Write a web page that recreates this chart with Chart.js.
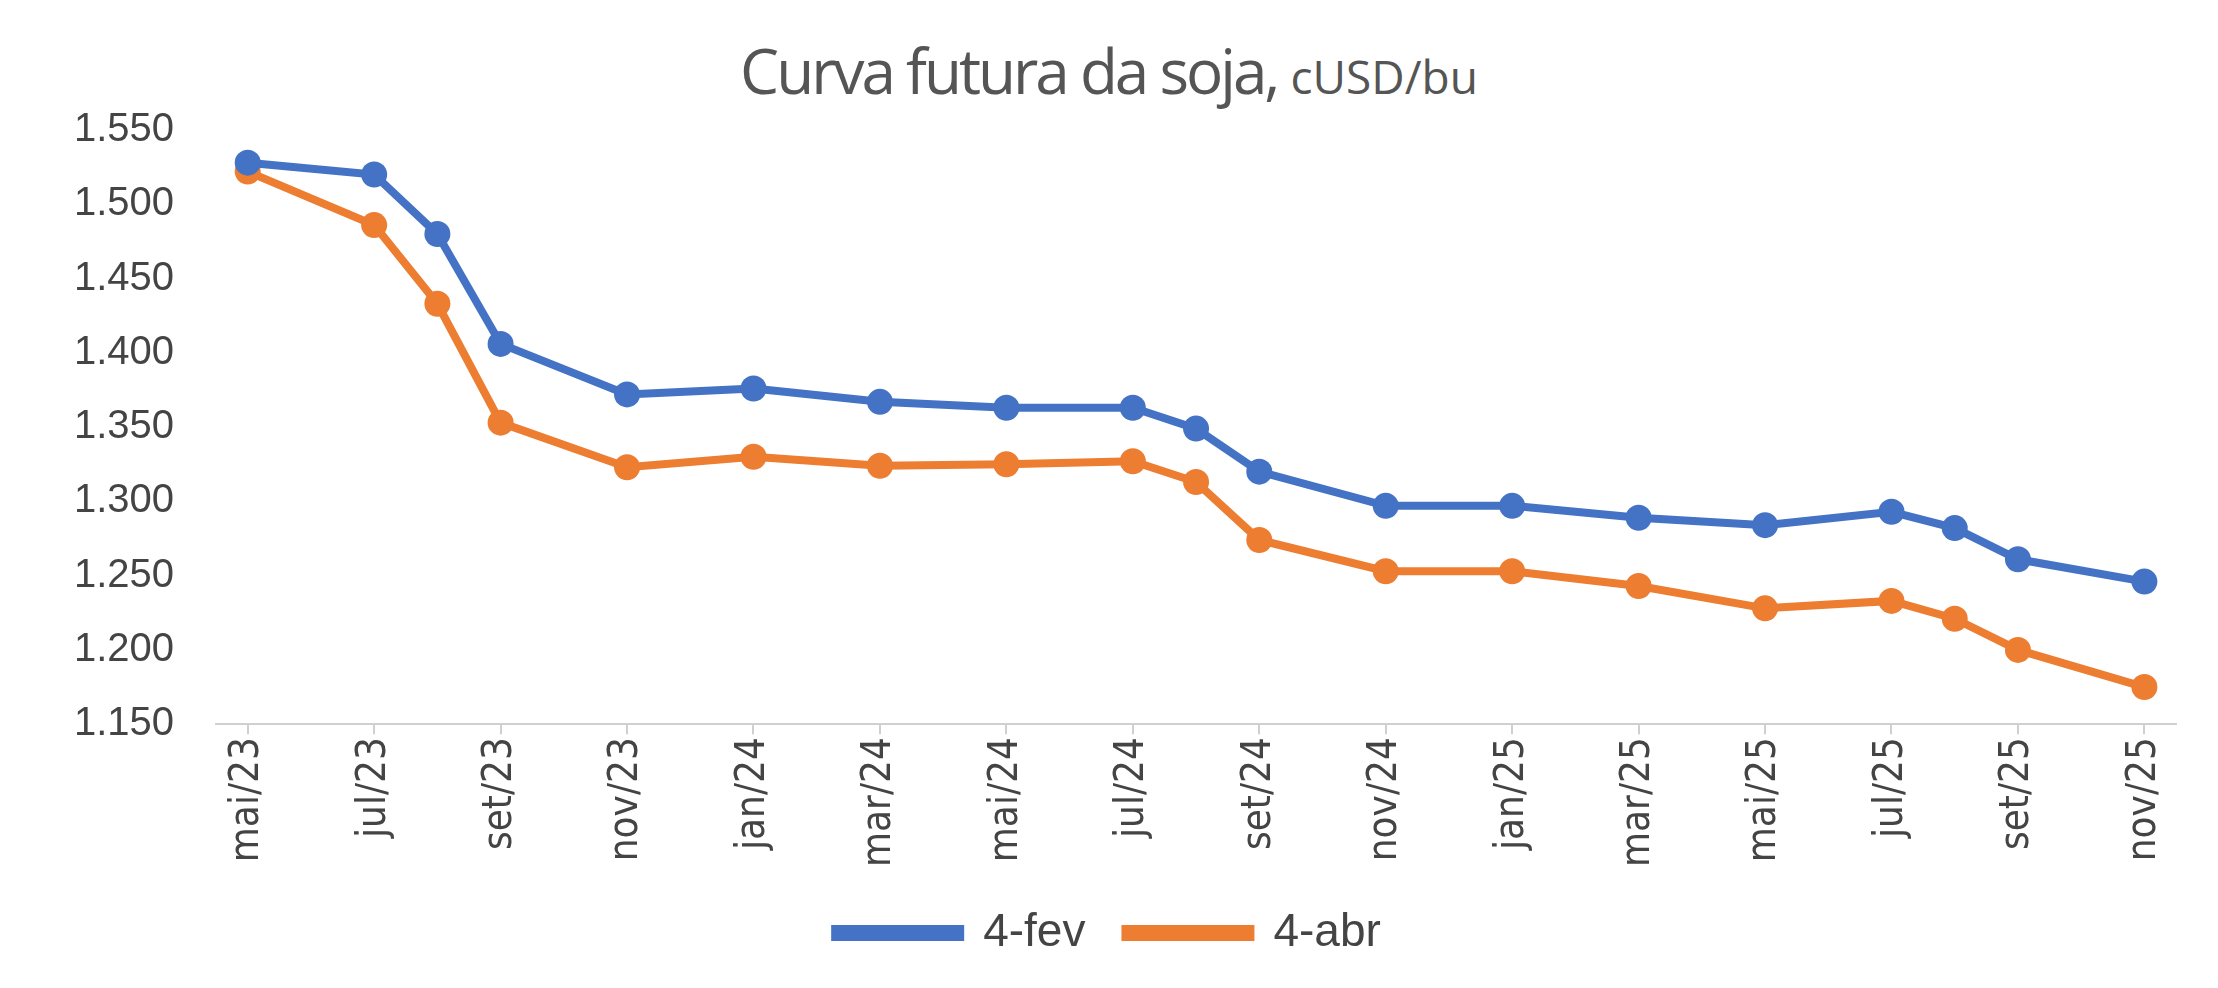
<!DOCTYPE html>
<html>
<head>
<meta charset="utf-8">
<script src="https://cdn.jsdelivr.net/npm/chart.js@4"></script>
<style>
  body { margin: 0; background: #fff; }
  #title { position: absolute; top: 28px; left: 0; width: 2218px; text-align: center;
           font-family: "Open Sans", "Noto Sans", sans-serif; color: #555; font-size: 62px; letter-spacing: -3px; }
  #title span { font-size: 46px; letter-spacing: 0; }
  #wrap { position: absolute; top: 0; left: 0; width: 2218px; height: 988px; }
</style>
</head>
<body>
<div id="title">Curva futura da soja, <span>cUSD/bu</span></div>
<div id="wrap"><canvas id="myChart"></canvas></div>
<script>
// month offsets from mai/23
const months = [0, 2, 3, 4, 6, 8, 10, 12, 14, 15, 16, 18, 20, 22, 24, 26, 27, 28, 30];
const tickLabels = ['mai/23','jul/23','set/23','nov/23','jan/24','mar/24','mai/24','jul/24',
                    'set/24','nov/24','jan/25','mar/25','mai/25','jul/25','set/25','nov/25'];
const fev = [1528, 1520, 1480, 1406, 1372, 1376, 1367, 1363, 1363, 1349, 1320, 1297, 1297, 1289, 1284, 1293, 1282, 1261, 1246];
const abr = [1522, 1486, 1433, 1353, 1323, 1330, 1324, 1325, 1327, 1313, 1274, 1253, 1253, 1243, 1228, 1233, 1221, 1200, 1175];

const pts = arr => arr.map((v, i) => ({ x: months[i], y: v }));

new Chart(document.getElementById('myChart'), {
    type: 'line',
    data: {
        datasets: [
            { label: '4-fev', data: pts(fev), borderColor: '#4472C4', backgroundColor: '#4472C4',
              borderWidth: 8, pointRadius: 13, pointBorderWidth: 0 },
            { label: '4-abr', data: pts(abr), borderColor: '#ED7D31', backgroundColor: '#ED7D31',
              borderWidth: 8, pointRadius: 13, pointBorderWidth: 0 }
        ]
    },
    options: {
        responsive: true,
        maintainAspectRatio: false,
        animation: false,
        layout: { padding: { top: 130, right: 42, left: 40, bottom: 22 } },
        scales: {
            x: {
                type: 'linear', min: -0.5, max: 30.5,
                afterBuildTicks: axis => { axis.ticks = tickLabels.map((l, i) => ({ value: i * 2 })); },
                ticks: {
                    callback: v => tickLabels[v / 2],
                    maxRotation: 90, minRotation: 90, autoSkip: false,
                    color: '#444', font: { size: 40, family: 'DejaVu Sans Condensed' }
                },
                grid: { drawOnChartArea: false, tickLength: 10, color: '#d0d0d0', lineWidth: 2 },
                border: { color: '#d0d0d0', width: 2 }
            },
            y: {
                min: 1150, max: 1550,
                ticks: {
                    stepSize: 50,
                    callback: v => (v / 1000).toFixed(3),
                    color: '#444', font: { size: 40, family: 'Liberation Sans' }, padding: 34
                },
                grid: { display: false },
                border: { display: false }
            }
        },
        plugins: {
            legend: {
                position: 'bottom',
                labels: { color: '#444', font: { size: 46, family: 'Liberation Sans' },
                          boxWidth: 125, boxHeight: 8, padding: 40 }
            },
            tooltip: { enabled: false }
        }
    }
});
</script>
</body>
</html>
